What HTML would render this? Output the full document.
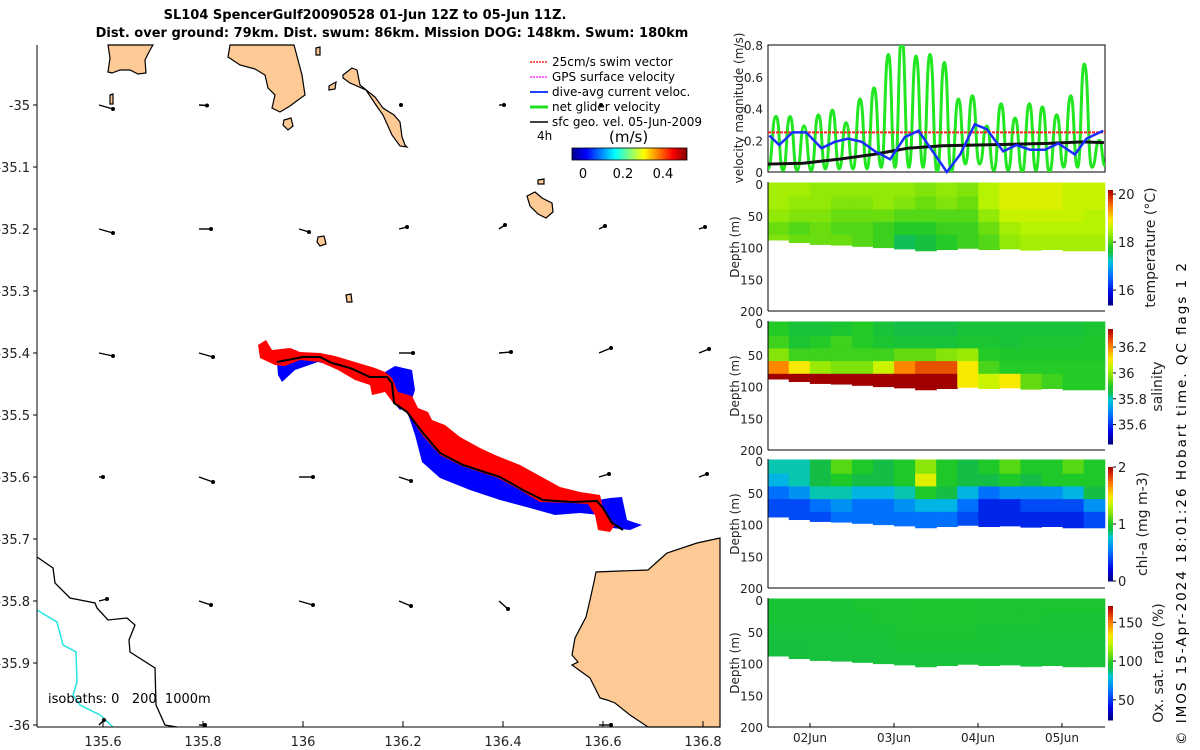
<!DOCTYPE html>
<html><head><meta charset="utf-8"><style>
html,body{margin:0;padding:0;background:#fff;}
svg{display:block;font-family:"DejaVu Sans","Liberation Sans",sans-serif;}
</style></head><body>
<svg id="root" width="1200" height="750" viewBox="0 0 1200 750">
<text x="365" y="19" text-anchor="middle" font-size="13" font-weight="bold">SL104 SpencerGulf20090528 01-Jun 12Z to 05-Jun 11Z.</text>
<text x="392" y="37" text-anchor="middle" font-size="13" font-weight="bold">Dist. over ground: 79km. Dist. swum: 86km. Mission DOG: 148km. Swum: 180km</text>
<g id="map">
 <g fill="#fdc995" stroke="#000" stroke-width="1.2">
  <polygon points="108,45 110,58 108,72 112,73 120,70 130,70 138,74 146,73 145,60 150,50 153,45"/>
  <polygon points="230,45 228,57 240,65 255,69 265,75 268,88 275,95 272,108 280,112 290,106 298,100 305,95 302,75 298,60 294,45"/>
  <polygon points="343,75 352,68 357,70 360,85 375,97 383,108 394,115 400,122 402,137 405,145 407,147 400,146 392,135 383,115 378,108 366,90 350,83 343,78"/>
  <polygon points="284,120 291,118 293,126 288,130 283,125"/>
  <polygon points="329,86 336,82 335,89 329,90"/>
  <polygon points="318,237 324,236 326,244 320,246 317,242"/>
  <polygon points="346,295 351,294 352,302 347,302"/>
  <polygon points="110,95 113,94 113,104 110,104"/>
  <polygon points="316,48 320,47 320,55 316,55"/>
  <polygon points="527,196 535,192 542,198 552,203 553,212 546,218 538,214 530,206"/>
  <polygon points="538,180 544,179 544,184 538,184"/>
  <polygon points="720,538 697,543 667,553 648,570 620,571 596,572 594,582 590,600 586,617 575,638 572,655 578,662 572,665 590,678 600,698 607,700 615,703 630,715 648,727 720,727"/>
 </g>
 <polyline fill="none" stroke="#000" stroke-width="1.3" points="37,557 53,568 55,583 70,598 95,603 97,608 108,620 127,618 135,625 129,640 130,652 155,668 156,705 165,725 177,727"/>
 <polyline fill="none" stroke="#22e5e5" stroke-width="1.5" points="37,610 57,622 63,645 76,652 77,682 73,695 80,705 100,715 113,727"/>
 <g id="quiver"></g>
 <polygon fill="#0000ff" points="277,362 300,356 330,355 345,360 370,370 385,372 395,366 412,370 415,390 410,405 400,410 394,403 392,385 387,378 372,378 350,370 318,362 295,370 282,382 278,375"/>
 <polygon fill="#0000ff" points="407,412 420,425 440,452 470,468 500,478 520,490 545,500 575,502 598,500 610,498 622,497 627,520 642,525 630,530 612,528 600,515 580,513 555,515 530,508 500,500 470,490 440,478 422,462 415,435 410,420"/>
 <polygon fill="#ff0000" points="258,345 266,340 272,350 290,348 300,352 320,353 335,356 355,362 375,368 385,372 392,378 398,392 412,396 418,408 428,412 432,420 445,425 460,437 480,448 495,455 520,465 540,476 560,487 580,492 600,495 603,508 615,525 610,532 598,530 595,515 588,504 570,503 540,502 520,490 498,478 462,466 440,455 423,436 407,413 394,404 385,392 372,395 370,385 355,380 338,370 320,362 300,360 285,366 275,365 260,358"/>
 <polyline fill="none" stroke="#000" stroke-width="2" points="277,362 303,357 320,357 332,363 350,368 370,377 387,377 392,383 394,403 407,412 423,433 440,453 463,465 500,477 523,490 543,500 573,502 597,501 603,508 612,523 623,530"/>
 <line x1="37" y1="45" x2="37" y2="727" stroke="#000"/>
 <line x1="37" y1="727" x2="720" y2="727" stroke="#000"/>
 <g id="mapticks" font-size="13" fill="#222"></g>
 <text x="48" y="703" font-size="13" style="white-space:pre">isobaths: 0   200  1000m</text>
 <g font-size="12">
  <line x1="530" y1="62" x2="548" y2="62" stroke="#ff2020" stroke-width="1.5" stroke-dasharray="2,1"/><text x="552" y="66">25cm/s swim vector</text>
  <line x1="530" y1="77" x2="548" y2="77" stroke="#ff30ff" stroke-width="1.5" stroke-dasharray="2,1"/><text x="552" y="81">GPS surface velocity</text>
  <line x1="530" y1="92" x2="548" y2="92" stroke="#2040ff" stroke-width="2"/><text x="552" y="96">dive-avg current veloc.</text>
  <line x1="530" y1="107" x2="548" y2="107" stroke="#20e020" stroke-width="3"/><text x="552" y="111">net glider velocity</text>
  <line x1="530" y1="122" x2="548" y2="122" stroke="#000" stroke-width="1.5"/><text x="552" y="126">sfc geo. vel. 05-Jun-2009</text>
  <text x="537" y="140">4h</text>
  <text x="609" y="142" font-size="15">(m/s)</text>
  <defs><linearGradient id="jet" x1="0" x2="1"><stop offset="0" stop-color="#00008f"/><stop offset="0.125" stop-color="#0000ff"/><stop offset="0.375" stop-color="#00ffff"/><stop offset="0.625" stop-color="#ffff00"/><stop offset="0.875" stop-color="#ff0000"/><stop offset="1" stop-color="#800000"/></linearGradient></defs>
  <rect x="572" y="148" width="115" height="12" fill="url(#jet)" stroke="#000" stroke-width="0.8"/>
  <text x="583" y="178" text-anchor="middle" font-size="13">0</text><text x="623" y="178" text-anchor="middle" font-size="13">0.2</text><text x="663" y="178" text-anchor="middle" font-size="13">0.4</text>
 </g>
</g>
<g id="right"></g>
<text transform="translate(1186,745) rotate(-90)" font-size="13.5" textLength="482">© IMOS 15-Apr-2024 18:01:26 Hobart time. QC flags 1  2</text>
</svg>
<script>
// ---------- velocity data (hours since 01-Jun 12Z) ----------
const peakHours=[2.3,6.3,10.3,14.4,18.4,22.3,26.3,30.3,34.4,38.2,42.3,46.3,50.4,54.4,58.4,62.5,66.6,70.6,74.7,78.4,82.5,86.5,90.4,94.7];
const peakVals=[0.35,0.35,0.29,0.36,0.39,0.31,0.46,0.53,0.74,0.85,0.73,0.74,0.69,0.46,0.48,0.29,0.43,0.34,0.43,0.41,0.36,0.48,0.68,0.2];
const troughVals=[0.02,0.01,0.01,0.01,0.02,0.02,0.02,0.02,0.03,0.03,0.03,0.03,0.0,0.0,0.05,0.05,0.01,0.01,0.0,0.01,0.0,0.03,0.03,0.03,0.04];
const currHours=[0.4,3.2,7.0,10.9,15.3,19.1,22.9,26.8,30.6,34.9,39.1,43.0,51.1,54.9,59.1,62.5,67.2,71.0,74.9,79.1,83.0,87.7,91.0,95.8];
const currVals=[0.23,0.17,0.25,0.25,0.15,0.19,0.21,0.19,0.13,0.08,0.22,0.26,0.0,0.11,0.30,0.27,0.13,0.17,0.14,0.14,0.18,0.11,0.21,0.26];
const geoHours=[0,10,20,30,35,40,50,60,70,80,90,96];
const geoVals=[0.05,0.055,0.08,0.11,0.13,0.15,0.165,0.17,0.175,0.18,0.19,0.185];
const swimVal=0.25;
const velTicks=[0,0.2,0.4,0.6,0.8];
const dayTicks=["02Jun","03Jun","04Jun","05Jun"];
const dayTickHours=[12,36,60,84];
// ---------- section data: 16 time columns x 5 depth bins ----------
const colCount=16;
const binTops=[0,20,40,60,80];
const bottomDepth=[88,92,95,96,98,100,102,105,103,101,103,102,104,103,105,105];
const tempRows=[
[18.4,18.4,18.3,18.3,18.3,18.3,18.3,18.2,18.3,18.2,18.5,18.7,18.7,18.7,18.6,18.6],
[18.4,18.3,18.3,18.2,18.2,18.3,18.2,18.1,18.2,18.1,18.5,18.7,18.7,18.7,18.6,18.6],
[18.3,18.2,18.2,18.1,18.1,18.1,18.0,18.0,18.0,18.0,18.3,18.6,18.6,18.6,18.6,18.5],
[18.1,18.0,18.1,18.0,18.0,17.9,17.8,17.8,17.9,17.9,18.1,18.4,18.5,18.5,18.5,18.5],
[18.2,18.1,18.1,18.1,18.0,17.9,17.5,17.6,17.8,17.9,18.0,18.3,18.4,18.4,18.4,18.4]];
const salRows=[
[35.9,35.87,35.87,35.88,35.9,35.87,35.85,35.85,35.85,35.87,35.87,35.87,35.87,35.87,35.87,35.88],
[35.92,35.88,35.9,35.92,35.9,35.88,35.87,35.87,35.87,35.88,35.88,35.87,35.88,35.88,35.88,35.89],
[35.98,35.92,35.92,35.92,35.92,35.92,35.95,35.95,35.98,36.0,35.9,35.89,35.89,35.89,35.89,35.89],
[36.2,36.1,36.0,35.97,35.97,36.05,36.2,36.25,36.25,36.1,35.93,35.9,35.9,35.9,35.9,35.9],
[36.35,36.35,36.35,36.35,36.35,36.35,36.35,36.35,36.35,36.1,36.05,36.1,35.95,35.92,35.9,35.9]];
const chlRows=[
[0.8,0.8,0.9,1.1,1.0,0.9,1.0,1.2,1.0,0.9,1.0,1.1,1.0,1.0,1.1,1.0],
[0.7,0.8,0.9,1.0,0.9,0.9,1.0,1.4,1.0,0.9,0.9,1.0,0.9,1.0,1.0,1.0],
[0.5,0.6,0.8,0.8,0.7,0.7,0.8,1.0,0.9,0.7,0.5,0.6,0.6,0.6,0.7,0.9],
[0.4,0.4,0.5,0.6,0.5,0.5,0.6,0.7,0.7,0.5,0.3,0.3,0.4,0.4,0.4,0.6],
[0.4,0.4,0.4,0.5,0.5,0.5,0.5,0.5,0.5,0.4,0.3,0.3,0.3,0.3,0.3,0.4]];
const oxyRows=[
[94,94,94,94,95,95,95,96,96,96,95,95,95,95,95,95],
[94,94,94,94,94,95,95,96,96,96,95,95,95,94,94,94],
[93,93,93,93,94,94,95,95,95,95,94,94,94,94,94,94],
[92,92,93,93,93,93,94,94,94,94,94,93,93,93,93,93],
[92,92,92,92,92,93,93,93,93,93,93,93,93,93,93,93]];
const depthTicks=[0,50,100,150,200];
// ---------- map quiver data (lon, lat, dx, dy in px) ----------
const qLon=[135.6,135.8,136.2,136.4,136.6,135.6,135.8,136.0,136.2,136.4,136.6,136.8,135.6,135.8,136.2,136.4,136.6,136.8,135.6,135.8,136.0,136.2,136.4,136.6,136.8,135.6,135.8,136.0,136.2,136.4,135.6,135.8,136.6];
const qLat=[-35,-35,-35,-35,-35,-35.2,-35.2,-35.2,-35.2,-35.2,-35.2,-35.2,-35.4,-35.4,-35.4,-35.4,-35.4,-35.4,-35.6,-35.6,-35.6,-35.6,-35.6,-35.6,-35.6,-35.8,-35.8,-35.8,-35.8,-35.8,-36,-36,-36];
const qU=[14,8,2,5,2,14,12,10,8,6,6,6,14,14,14,12,12,10,4,14,14,12,8,10,8,8,12,14,12,9,5,6,12];
const qV=[4,0.5,0,0,0,4,0,3,-2,-4,-3,-2,3,4,0,-1,-5,-4,0,5,0,4,-1,-3,-3,-2,4,4,5,8,-5,0,0];
const lonTicks=[135.6,135.8,136,136.2,136.4,136.6,136.8];
const latTicks=[-35,-35.1,-35.2,-35.3,-35.4,-35.5,-35.6,-35.7,-35.8,-35.9,-36];

const NS="http://www.w3.org/2000/svg";
function mk(tag,attrs,parent){const e=document.createElementNS(NS,tag);for(const k in attrs)e.setAttribute(k,attrs[k]);parent.appendChild(e);return e;}
const lonX=lon=>37+(lon-135.468)*500;
const latY=lat=>105+(-35-lat)*620;

const mt=document.getElementById('mapticks');
lonTicks.forEach(l=>{const x=lonX(l);
 const t=mk('line',{x1:x,y1:727,x2:x,y2:721,stroke:'#000'},mt);
 
 
 const tx=mk('text',{x:x,y:746,'text-anchor':'middle'},mt);tx.textContent=String(l);
 
 });
latTicks.forEach(l=>{const y=latY(l);
 const t=mk('line',{x1:33,y1:y,x2:37,y2:y,stroke:'#000'},mt);
 
 
 const tx=mk('text',{x:30,y:y+5,'text-anchor':'end'},mt);tx.textContent=String(l);
 
 });
const qg=document.getElementById('quiver');
qLon.forEach((lon,i)=>{const x=lonX(lon)-4,y=latY(qLat[i]);
 const ln=mk('line',{x1:x,y1:y,x2:x+qU[i],y2:y+qV[i],stroke:'#000','stroke-width':1.4},qg);
 
 
 const h=mk('circle',{cx:x+qU[i],cy:y+qV[i],r:2,fill:'#000'},qg);
 
 });

const stops=[[0,[0,0,128]],[0.1,[0,0,224]],[0.25,[0,112,255]],[0.38,[0,200,220]],[0.45,[20,190,70]],[0.5,[30,200,40]],[0.58,[120,225,10]],[0.66,[190,245,0]],[0.74,[255,232,0]],[0.85,[255,128,0]],[0.95,[208,32,0]],[1,[160,0,0]]];
function cmap(t){t=Math.max(0,Math.min(1,t));for(let i=1;i<stops.length;i++){if(t<=stops[i][0]){const a=stops[i-1],b=stops[i],f=(t-a[0])/(b[0]-a[0]);const c=a[1].map((v,k)=>Math.round(v+(b[1][k]-v)*f));return `rgb(${c})`;}}return 'rgb(160,0,0)';}

const R=document.getElementById('right');
const X0=768,X1=1105,H0=0,H1=96.3;
const hx=h=>X0+(h-H0)/(H1-H0)*(X1-X0);
const vy=v=>172-v*(127/0.8);
const vb=mk('rect',{x:X0,y:45,width:X1-X0,height:127,fill:'none',stroke:'#000'},R);


velTicks.forEach(v=>{const t=mk('text',{x:763,y:vy(v)+5,'text-anchor':'end','font-size':12,fill:'#222'},R);t.textContent=String(v);
 
 });
const vt=mk('text',{transform:'translate(743,108) rotate(-90)','text-anchor':'middle','font-size':12,fill:'#222'},R);vt.textContent='velocity magnitude (m/s)';


let gd='';const pts=[];
for(let i=0;i<peakHours.length;i++){const tl=i===0?0:(peakHours[i-1]+peakHours[i])/2;pts.push([tl,troughVals[i]]);pts.push([peakHours[i],peakVals[i]]);}
pts.push([H1,troughVals[troughVals.length-1]]);
const cp=mk('clipPath',{id:'vclip'},R);mk('rect',{x:X0,y:45,width:X1-X0,height:127},cp);
for(let i=0;i<pts.length;i++){const x=hx(pts[i][0]),y=vy(pts[i][1]);
 if(i===0)gd+=`M${x},${y}`;else{const px=hx(pts[i-1][0]),py=vy(pts[i-1][1]);const dx=(x-px)*0.55;gd+=` C${px+dx},${py} ${x-dx},${y} ${x},${y}`;}}
const gp=mk('path',{d:gd,fill:'none',stroke:'#22e622','stroke-width':3,'clip-path':'url(#vclip)'},R);


const sw=mk('line',{x1:X0,x2:X1,y1:vy(swimVal),y2:vy(swimVal),stroke:'#ff2020','stroke-width':2,'stroke-dasharray':'3,1'},R);


const gl=mk('polyline',{points:geoHours.map((h,i)=>`${hx(h)},${vy(geoVals[i])}`).join(' '),fill:'none',stroke:'#111','stroke-width':3},R);


const bl=mk('polyline',{points:currHours.map((h,i)=>`${hx(h)},${vy(currVals[i])}`).join(' '),fill:'none',stroke:'#1a2cff','stroke-width':2.5},R);



const panels=[
 {rows:tempRows,top:184,min:15.38,max:20.17,cb:[190,305],ticks:[20,18,16],title:'temperature (°C)',tx:1155,name:'temperature'},
 {rows:salRows,top:323,min:35.45,max:36.34,cb:[329,444],ticks:[36.2,36,35.8,35.6],title:'salinity',tx:1162,name:'salinity'},
 {rows:chlRows,top:461,min:0,max:2,cb:[467,581],ticks:[2,1,0],title:'chl-a (mg m-3)',tx:1147,name:'chlorophyll'},
 {rows:oxyRows,top:600,min:24,max:171,cb:[606,720],ticks:[150,100,50],title:'Ox. sat. ratio (%)',tx:1163,name:'oxygen'}];
const colW=(X1-X0)/colCount;
panels.forEach(p=>{
 const dy=d=>p.top+d*127/200;
 const g=mk('g',{},R);
 
 
 for(let c=0;c<colCount;c++){for(let r=0;r<binTops.length;r++){
  const d0=binTops[r],d1=r<binTops.length-1?binTops[r+1]:bottomDepth[c];
  const cell=mk('rect',{x:X0+c*colW-0.3,y:dy(d0)-(r===0?1.5:0),width:colW+0.6,height:dy(d1)-dy(d0)+0.6+(r===0?1.5:0),fill:cmap((p.rows[r][c]-p.min)/(p.max-p.min))},g);
  
  }}
 mk('line',{x1:X0,y1:p.top-2,x2:X0,y2:dy(200),stroke:'#000'},R);
 mk('line',{x1:X0,y1:dy(200),x2:X1,y2:dy(200),stroke:'#000'},R);
 depthTicks.forEach(d=>{const t=mk('text',{x:763,y:dy(d)+5,'text-anchor':'end','font-size':12,fill:'#222'},R);t.textContent=String(d);
  
  });
 const yt=mk('text',{transform:`translate(739,${p.top+63}) rotate(-90)`,'text-anchor':'middle','font-size':12,fill:'#222'},R);yt.textContent='Depth (m)';
 
 
 const [c0,c1]=p.cb;const n=40;
 for(let i=0;i<n;i++){const s=mk('rect',{x:1108,y:c0+(c1-c0)*i/n,width:5,height:(c1-c0)/n+0.5,fill:cmap(1-(i+0.5)/n)},R);
  
  }
 p.ticks.forEach(v=>{const y=c1-(v-p.min)/(p.max-p.min)*(c1-c0);
  mk('line',{x1:1113,x2:1116,y1:y,y2:y,stroke:'#000'},R);
  const t=mk('text',{x:1118,y:y+5,'font-size':13,fill:'#222'},R);t.textContent=String(v);
  
  });
 const ct=mk('text',{transform:`translate(${p.tx},${(c0+c1)/2}) rotate(-90)`,'text-anchor':'middle','font-size':14,fill:'#222'},R);ct.textContent=p.title;
 
 
});
dayTicks.forEach((d,i)=>{const x=hx(dayTickHours[i]);
 mk('line',{x1:x,x2:x,y1:727,y2:723,stroke:'#000'},R);
 const t=mk('text',{x:x,y:742,'text-anchor':'middle','font-size':12,fill:'#222'},R);t.textContent=d;
 
 });
</script>
</body></html>
